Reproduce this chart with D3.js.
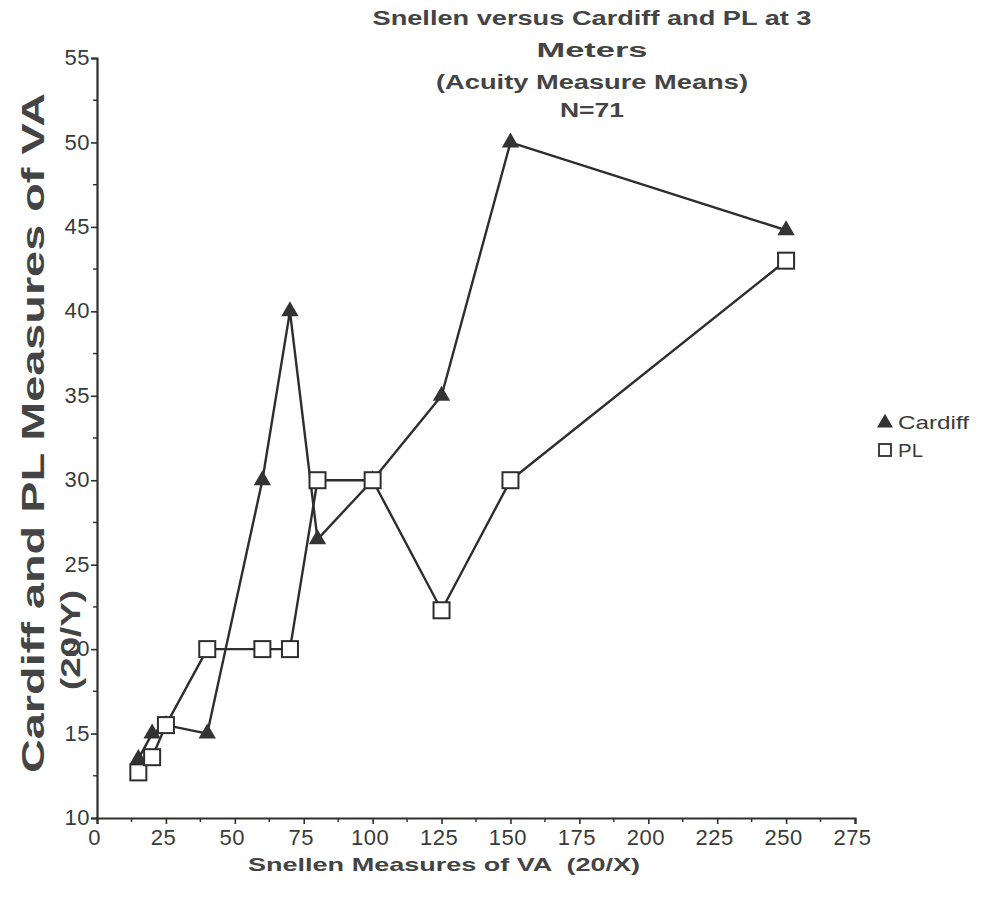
<!DOCTYPE html>
<html><head><meta charset="utf-8">
<script src="https://cdn.jsdelivr.net/npm/d3@7"></script>
<style>body{margin:0;background:#fff;}svg{display:block;}</style>
</head><body>
<script>
const cardiffX = [15, 20, 25, 40, 60, 70, 80, 100, 125, 150, 250];
const cardiffY = [13.5, 15, 15.5, 15, 30, 40, 26.5, 30, 35, 50, 44.8];
const plX = [15, 20, 25, 40, 60, 70, 80, 100, 125, 150, 250];
const plY = [12.7, 13.6, 15.5, 20, 20, 20, 30, 30, 22.3, 30, 43];
const xTicks = [0, 25, 50, 75, 100, 125, 150, 175, 200, 225, 250, 275];
const yTicks = [10, 15, 20, 25, 30, 35, 40, 45, 50, 55];
const titleLines = ["Snellen versus Cardiff and PL at 3", "Meters", "(Acuity Measure Means)", "N=71"];
const seriesNames = ["Cardiff", "PL"];

const W = 1002, H = 899;
const svg = d3.select("body").append("svg").attr("width", W).attr("height", H);
const x = d3.scaleLinear().domain([0, 275]).range([97, 855]);
const y = d3.scaleLinear().domain([10, 55]).range([818, 58]);
const ink = "#2e2e2e", txt = "#3a3a3a";
const font = "Liberation Sans, Arial, Helvetica, sans-serif";

// title
const tY = [25, 57, 89, 117], tLen = [439, 111, 312, 64];
titleLines.forEach((t, i) => {
  svg.append("text").attr("x", 592).attr("y", tY[i]).attr("text-anchor", "middle")
    .attr("font-family", font).attr("font-weight", "bold").attr("font-size", 20)
    .attr("fill", "#444").attr("textLength", tLen[i]).attr("lengthAdjust", "spacingAndGlyphs").text(t);
});

// axes
const xAxis = d3.axisBottom(x).tickValues(xTicks).tickSize(6).tickPadding(4).tickFormat(d3.format("d"));
const gx = svg.append("g").attr("transform", `translate(0,${y(10)})`).call(xAxis);
const yAxis = d3.axisLeft(y).tickValues(yTicks).tickSize(6).tickPadding(1).tickFormat(d3.format("d"));
const gy = svg.append("g").attr("transform", `translate(${x(0)},0)`).call(yAxis);
[gx, gy].forEach(g => {
  g.attr("font-size", 22).attr("font-family", font);
  g.select(".domain").attr("stroke", ink).attr("stroke-width", 2.2);
  g.selectAll(".tick line").attr("stroke", ink).attr("stroke-width", 1.6);
  g.selectAll(".tick text").style("font-size", "22px").style("font-family", font)
    .attr("letter-spacing", 0.5).attr("fill", txt);
});
gx.selectAll(".tick text").attr("dy", "0.78em").attr("dx", -3);
gy.selectAll(".tick text").attr("dy", "0.3em");
// minor ticks
const xMinor = d3.range(12.5, 275, 25);
svg.append("g").selectAll("line").data(xMinor).join("line")
  .attr("x1", d => x(d)).attr("x2", d => x(d)).attr("y1", y(10)).attr("y2", y(10) + 4)
  .attr("stroke", ink).attr("stroke-width", 1.4);
const yMinor = d3.range(12.5, 55, 5);
svg.append("g").selectAll("line").data(yMinor).join("line")
  .attr("x1", x(0) - 4).attr("x2", x(0)).attr("y1", d => y(d)).attr("y2", d => y(d))
  .attr("stroke", ink).attr("stroke-width", 1.4);

// axis titles
svg.append("text").attr("x", 444).attr("y", 871).attr("text-anchor", "middle")
  .attr("font-family", font).attr("font-weight", "bold").attr("font-size", 19).attr("fill", "#444")
  .attr("textLength", 392).attr("lengthAdjust", "spacingAndGlyphs").attr("xml:space", "preserve")
  .text("Snellen Measures of VA  (20/X)");
svg.append("text").attr("transform", "translate(44,433) rotate(-90)").attr("text-anchor", "middle")
  .attr("font-family", font).attr("font-weight", "bold").attr("font-size", 32).attr("fill", "#444")
  .attr("textLength", 680).attr("lengthAdjust", "spacingAndGlyphs")
  .text("Cardiff and PL Measures of VA");
svg.append("text").attr("transform", "translate(80,640) rotate(-90)").attr("text-anchor", "middle")
  .attr("font-family", font).attr("font-weight", "bold").attr("font-size", 28).attr("fill", "#444")
  .attr("textLength", 100).attr("lengthAdjust", "spacingAndGlyphs")
  .text("(20/Y)");

// lines
const line = d3.line().x(d => x(d[0])).y(d => y(d[1]));
const cardiff = cardiffX.map((v, i) => [v, cardiffY[i]]);
const pl = plX.map((v, i) => [v, plY[i]]);
[cardiff, pl].forEach(data => {
  svg.append("path").datum(data).attr("d", line).attr("fill", "none")
    .attr("stroke", ink).attr("stroke-width", 2.4).attr("stroke-linejoin", "round");
});
const tri = d3.symbol().type(d3.symbolTriangle).size(130);
svg.append("g").selectAll("path").data(cardiff).join("path")
  .attr("transform", d => `translate(${x(d[0])},${y(d[1])})`).attr("d", tri).attr("fill", "#333");
svg.append("g").selectAll("rect").data(pl).join("rect")
  .attr("x", d => x(d[0]) - 8).attr("y", d => y(d[1]) - 8).attr("width", 16).attr("height", 16)
  .attr("fill", "#fff").attr("stroke", ink).attr("stroke-width", 2);

// legend
const lg = svg.append("g");
lg.append("path").attr("transform", "translate(885,423)").attr("d", d3.symbol().type(d3.symbolTriangle).size(110)).attr("fill", "#333");
lg.append("rect").attr("x", 879).attr("y", 444).attr("width", 12).attr("height", 12)
  .attr("fill", "#fff").attr("stroke", ink).attr("stroke-width", 1.8);
const legLen = [71, 25];
seriesNames.forEach((s, i) => {
  lg.append("text").attr("x", 898).attr("y", 429 + i * 28).attr("font-family", font)
    .attr("font-size", 19).attr("fill", txt)
    .attr("textLength", legLen[i]).attr("lengthAdjust", "spacingAndGlyphs").text(s);
});
</script>
</body></html>
